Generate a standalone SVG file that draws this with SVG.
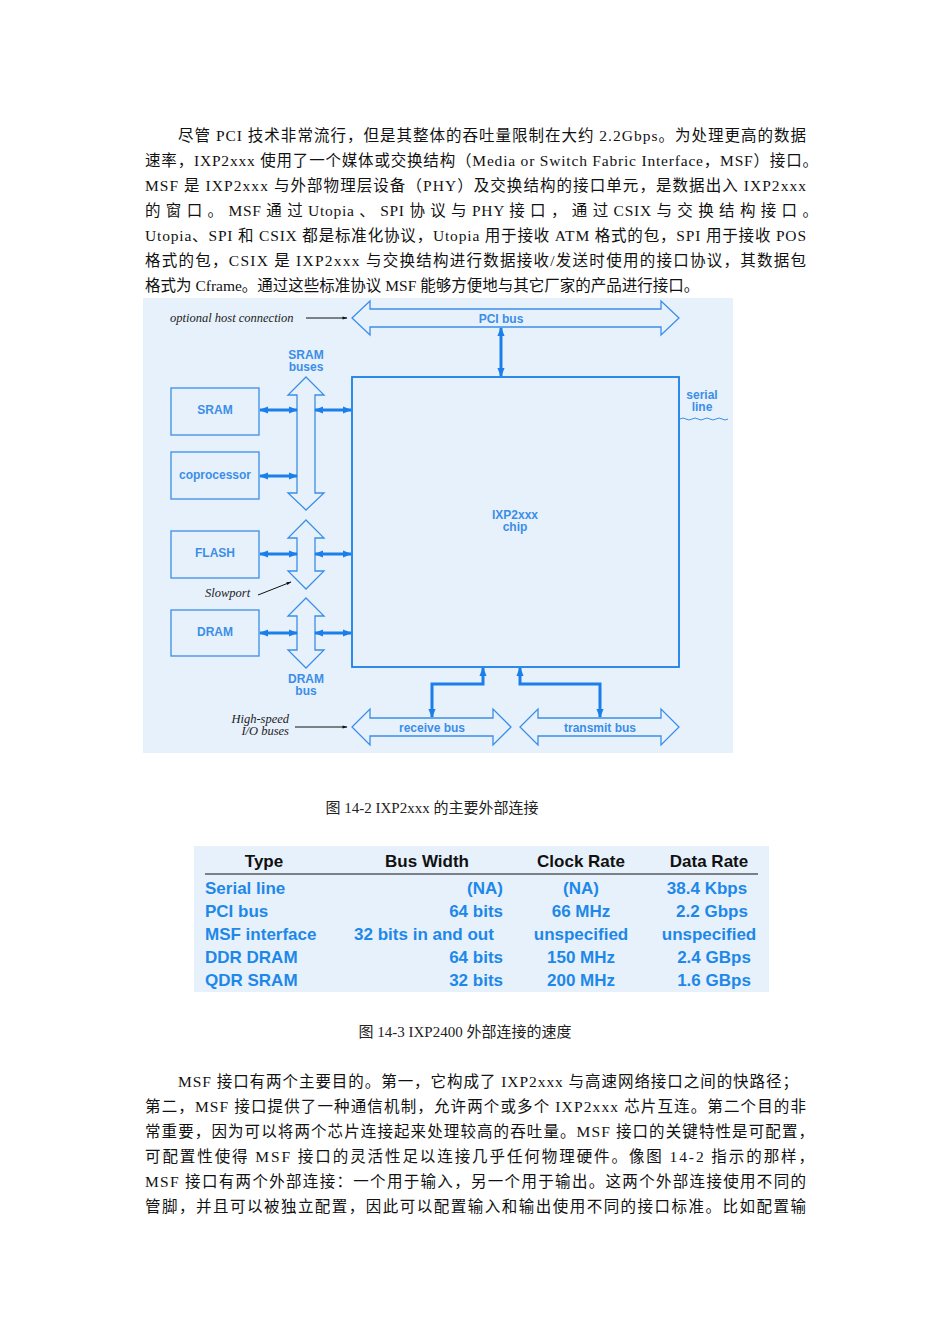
<svg xmlns="http://www.w3.org/2000/svg" width="950" height="1344" viewBox="0 0 950 1344">
<defs>
<style>
.p{font-family:"Liberation Serif","Noto Sans CJK SC",serif;font-size:15.5px;fill:#111}
.cap{font-family:"Liberation Serif","Noto Sans CJK SC",serif;font-size:15px;fill:#222}
.bl{fill:none;stroke:#3b8ee8;stroke-width:1.3}
.lab{font-family:"Liberation Sans",Arial,sans-serif;font-weight:bold;font-size:12px;fill:#3b8ee8}
.it{font-family:"Liberation Serif",serif;font-style:italic;font-size:12.5px;fill:#222}
.con{stroke:#1a7fe8;stroke-width:3;fill:none}
.th{font-family:"Liberation Sans",Arial,sans-serif;font-weight:bold;font-size:17px;fill:#111}
.td{font-family:"Liberation Sans",Arial,sans-serif;font-weight:bold;font-size:17px;fill:#1e88e8}
</style>
<marker id="a" viewBox="0 0 10 10" refX="9" refY="5" markerWidth="3" markerHeight="3" orient="auto-start-reverse"><path d="M0,1L10,5L0,9z" fill="#1a7fe8"/></marker>
<marker id="k" viewBox="0 0 10 10" refX="9" refY="5" markerWidth="7" markerHeight="5" orient="auto"><path d="M0,2L10,5L0,8z" fill="#111"/></marker>
</defs>
<g id="text1">
<text class="p" x="178" y="141" textLength="628">尽管 PCI 技术非常流行，但是其整体的吞吐量限制在大约 2.2Gbps。为处理更高的数据</text>
<text class="p" x="145" y="166" textLength="673">速率，IXP2xxx 使用了一个媒体或交换结构（Media or Switch Fabric Interface，MSF）接口。</text>
<text class="p" x="145" y="191" textLength="661">MSF 是 IXP2xxx 与外部物理层设备（PHY）及交换结构的接口单元，是数据出入 IXP2xxx</text>
<text class="p" x="145" y="216" textLength="673">的 窗 口 。 MSF 通 过 Utopia 、 SPI 协 议 与 PHY 接 口 ， 通 过 CSIX 与 交 换 结 构 接 口 。</text>
<text class="p" x="145" y="241" textLength="661">Utopia、SPI 和 CSIX 都是标准化协议，Utopia 用于接收 ATM 格式的包，SPI 用于接收 POS</text>
<text class="p" x="145" y="266" textLength="661">格式的包，CSIX 是 IXP2xxx 与交换结构进行数据接收/发送时使用的接口协议，其数据包</text>
<text class="p" x="145" y="291">格式为 Cframe。通过这些标准协议 MSF 能够方便地与其它厂家的产品进行接口。</text>
</g>
<rect x="143" y="298" width="590" height="455" fill="#e7f1fc"/>
<g id="pci_bus"><path class="bl" d="M352,318L370,301V309H661V301L679,318L661,335V327H370V335Z"/><text class="lab" x="501" y="323" text-anchor="middle">PCI bus</text></g>
<g id="chip"><rect x="352" y="377" width="327" height="290" fill="none" stroke="#1a7fe8" stroke-width="1.8"/><text class="lab" x="515" y="519" text-anchor="middle">IXP2xxx</text><text class="lab" x="515" y="531" text-anchor="middle">chip</text></g>
<g id="sram_buses"><path class="bl" d="M306,377L324,395H315V493H324L306,510L288,493H297V395H288Z"/><text class="lab" x="306" y="359" text-anchor="middle">SRAM</text><text class="lab" x="306" y="371" text-anchor="middle">buses</text></g>
<g id="slowport"><path class="bl" d="M306,520L324,538H315V571H324L306,589L288,571H297V538H288Z"/></g>
<g id="dram_bus"><path class="bl" d="M306,598L324,616H315V650H324L306,668L288,650H297V616H288Z"/><text class="lab" x="306" y="683" text-anchor="middle">DRAM</text><text class="lab" x="306" y="695" text-anchor="middle">bus</text></g>
<g id="sram"><rect class="bl" x="171" y="388" width="88" height="47"/><text class="lab" x="215" y="414" text-anchor="middle">SRAM</text></g>
<g id="coprocessor"><rect class="bl" x="171" y="452" width="88" height="47"/><text class="lab" x="215" y="479" text-anchor="middle">coprocessor</text></g>
<g id="flash"><rect class="bl" x="171" y="531" width="88" height="47"/><text class="lab" x="215" y="557" text-anchor="middle">FLASH</text></g>
<g id="dram"><rect class="bl" x="171" y="610" width="88" height="46"/><text class="lab" x="215" y="636" text-anchor="middle">DRAM</text></g>
<g id="receive_bus"><path class="bl" d="M352,727L370,709V718H493V709L511,727L493,745V736H370V745Z"/><text class="lab" x="432" y="732" text-anchor="middle">receive bus</text></g>
<g id="transmit_bus"><path class="bl" d="M520,727L538,709V718H661V709L679,727L661,745V736H538V745Z"/><text class="lab" x="600" y="732" text-anchor="middle">transmit bus</text></g>
<g id="connectors">
<path class="con" d="M501,328V376" marker-start="url(#a)" marker-end="url(#a)"/>
<path class="con" d="M315,410H351" marker-start="url(#a)" marker-end="url(#a)"/>
<path class="con" d="M260,410H297" marker-start="url(#a)" marker-end="url(#a)"/>
<path class="con" d="M260,476H297" marker-start="url(#a)" marker-end="url(#a)"/>
<path class="con" d="M260,554H297" marker-start="url(#a)" marker-end="url(#a)"/>
<path class="con" d="M315,554H351" marker-start="url(#a)" marker-end="url(#a)"/>
<path class="con" d="M260,633H297" marker-start="url(#a)" marker-end="url(#a)"/>
<path class="con" d="M315,633H351" marker-start="url(#a)" marker-end="url(#a)"/>
<path class="con" d="M483,668V684H432V717" marker-start="url(#a)" marker-end="url(#a)"/>
<path class="con" d="M520,668V684H600V717" marker-start="url(#a)" marker-end="url(#a)"/>
<path d="M306,318H347" stroke="#111" stroke-width="1" marker-end="url(#k)"/>
<path d="M258,595L291,582" stroke="#111" stroke-width="1" marker-end="url(#k)"/>
<path d="M295,727H347" stroke="#111" stroke-width="1" marker-end="url(#k)"/>
</g>
<g id="labels">
<text class="it" x="170" y="322">optional host connection</text>
<text class="it" x="205" y="597">Slowport</text>
<text class="it" x="289" y="723" text-anchor="end">High-speed</text>
<text class="it" x="289" y="735" text-anchor="end">I/O buses</text>
<text class="lab" x="702" y="399" text-anchor="middle">serial</text>
<text class="lab" x="702" y="411" text-anchor="middle">line</text>
<path d="M680,419q3,-2 6,0t6,0t6,0t6,0t6,0t6,0t6,0t6,0" fill="none" stroke="#3b8ee8" stroke-width="1"/>
</g>
<text class="cap" x="432" y="813" text-anchor="middle">图 14-2  IXP2xxx 的主要外部连接</text>
<g id="table">
<rect x="194" y="846" width="575" height="146" fill="#e7f1fc"/>
<text class="th" x="264" y="867" text-anchor="middle">Type</text>
<text class="th" x="427" y="867" text-anchor="middle">Bus Width</text>
<text class="th" x="581" y="867" text-anchor="middle">Clock Rate</text>
<text class="th" x="709" y="867" text-anchor="middle">Data Rate</text>
<line x1="205" y1="874" x2="758" y2="874" stroke="#111" stroke-width="1"/>
<g class="td">
<text x="205" y="894">Serial line</text><text x="503" y="894" text-anchor="end">(NA)</text><text x="581" y="894" text-anchor="middle">(NA)</text><text x="707" y="894" text-anchor="middle">38.4 Kbps</text>
<text x="205" y="917">PCI bus</text><text x="503" y="917" text-anchor="end">64 bits</text><text x="581" y="917" text-anchor="middle">66 MHz</text><text x="712" y="917" text-anchor="middle">2.2 Gbps</text>
<text x="205" y="940">MSF interface</text><text x="424" y="940" text-anchor="middle">32 bits in and out</text><text x="581" y="940" text-anchor="middle">unspecified</text><text x="709" y="940" text-anchor="middle">unspecified</text>
<text x="205" y="963">DDR DRAM</text><text x="503" y="963" text-anchor="end">64 bits</text><text x="581" y="963" text-anchor="middle">150 MHz</text><text x="714" y="963" text-anchor="middle">2.4 GBps</text>
<text x="205" y="986">QDR SRAM</text><text x="503" y="986" text-anchor="end">32 bits</text><text x="581" y="986" text-anchor="middle">200 MHz</text><text x="714" y="986" text-anchor="middle">1.6 GBps</text>
</g>
</g>
<text class="cap" x="465" y="1037" text-anchor="middle">图 14-3  IXP2400 外部连接的速度</text>
<g id="text2">
<text class="p" x="178" y="1087" textLength="620">MSF 接口有两个主要目的。第一，它构成了 IXP2xxx 与高速网络接口之间的快路径；</text>
<text class="p" x="145" y="1112" textLength="661">第二，MSF 接口提供了一种通信机制，允许两个或多个 IXP2xxx 芯片互连。第二个目的非</text>
<text class="p" x="145" y="1137" textLength="669">常重要，因为可以将两个芯片连接起来处理较高的吞吐量。MSF 接口的关键特性是可配置，</text>
<text class="p" x="145" y="1162" textLength="669">可配置性使得 MSF 接口的灵活性足以连接几乎任何物理硬件。像图 14-2 指示的那样，</text>
<text class="p" x="145" y="1187" textLength="661">MSF 接口有两个外部连接：一个用于输入，另一个用于输出。这两个外部连接使用不同的</text>
<text class="p" x="145" y="1212" textLength="661">管脚，并且可以被独立配置，因此可以配置输入和输出使用不同的接口标准。比如配置输</text>
</g>
</svg>
